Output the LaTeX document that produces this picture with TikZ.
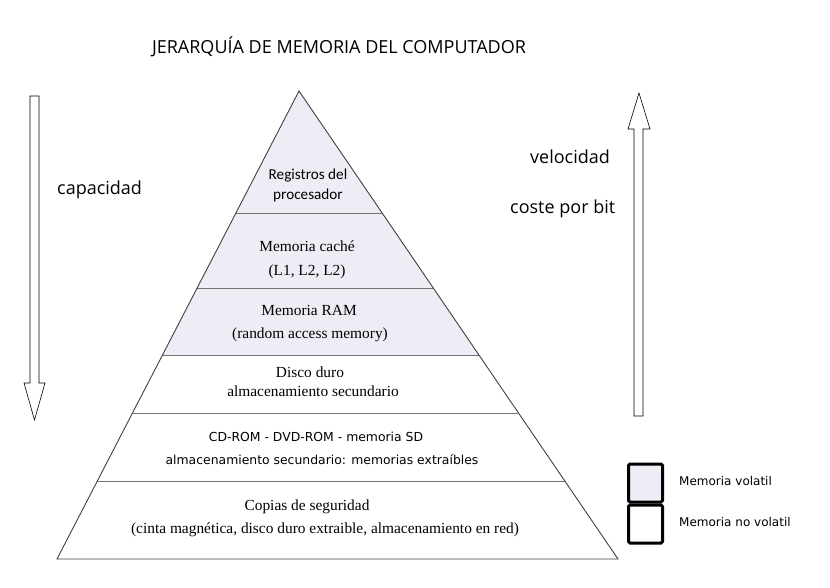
\documentclass[tikz,border=0pt]{standalone}
\usepackage{fontspec}
\setmainfont{Liberation Serif}
\newfontfamily\segoe{Open Sans}
\newfontfamily\calib{Carlito}
\newfontfamily\dejavu{DejaVu Sans}
\usetikzlibrary{calc, positioning}
\definecolor{volfill}{RGB}{237,237,246}

\begin{document}
\begin{tikzpicture}[x=1pt, y=-1pt,
    txt/.style={inner sep=0pt, font=\fontsize{15.4}{18}\selectfont},
    dvtxt/.style={inner sep=0pt, font=\dejavu\fontsize{12.4}{15}\selectfont},
    sidetxt/.style={inner sep=0pt, anchor=west, font=\segoe\fontsize{18}{22}\selectfont},
    divider/.style={draw=black!55, line width=0.9pt},
    hollow/.style={draw=black, line width=0.6pt, fill=white},
    legbox/.style={draw=black, line width=3pt, rounded corners=1.5pt,
      minimum width=34pt, minimum height=38pt, inner sep=0pt}]
    \useasboundingbox (0,0) rectangle (830,588);
    % Title
    \node[inner sep=0pt, font=\segoe\fontsize{18}{22}\selectfont] (title) at (339,47) {JERARQUÍA DE MEMORIA DEL COMPUTADOR};
    % Pyramid
    \coordinate (apex) at (299,91);
    \coordinate (bl) at (57,559);
    \coordinate (br) at (618,559);
    \fill[volfill] (apex) -- ($(apex)!0.5641!(bl)$) -- ($(apex)!0.5641!(br)$) -- cycle;
    \foreach \t in {0.2607, 0.4209, 0.5641, 0.688, 0.8333}
      \draw[divider] ($(apex)!\t!(bl)$) -- ($(apex)!\t!(br)$);
    \draw[black!75, line width=0.9pt] (apex) -- (bl) -- (br) -- cycle;
    % Layers
    \node[inner sep=0pt, font=\calib\fontsize{15.2}{20}\selectfont, align=center] (reg) at (308,185) {Registros del\\procesador};
    \node[txt] (cache1) at (307,246) {Memoria caché};
    \node[txt] (cache2) at (307,272) {(L1, L2, L2)};
    \node[txt] (ram1) at (309,310) {Memoria RAM};
    \node[txt] (ram2) at (310,335) {(random access memory)};
    \node[txt] (disco1) at (310,372) {Disco duro};
    \node[txt] (disco2) at (313,391) {almacenamiento secundario};
    \node[dvtxt] (cd1) at (316,437) {CD-ROM - DVD-ROM - memoria SD};
    \node[dvtxt] (cd2) at (322,460) {almacenamiento secundario: memorias extraíbles};
    \node[txt] (copia1) at (307,507) {Copias de seguridad};
    \node[txt] (copia2) at (325,530) {(cinta magnética, disco duro extraible, almacenamiento en red)};
    % Arrows
    \draw[hollow] (30,96) -- (39,96) -- (39,383) -- (45,383) -- (34.5,420) -- (24,383) -- (30,383) -- cycle;
    \draw[hollow] (634,416) -- (643,416) -- (643,129) -- (650,129) -- (639,93) -- (628,129) -- (634,129) -- cycle;
    \node[sidetxt] (cap) at (57,190) {capacidad};
    \node[sidetxt] (vel) at (530,157) {velocidad};
    \node[sidetxt] (coste) at (510,209) {coste por bit};
    % Legend
    \node[legbox, fill=volfill] (vol) at (645.5,483) {};
    \node[legbox, fill=white, below=0pt of vol] (novol) {};
    \node[dvtxt, anchor=west, font=\dejavu\fontsize{12}{15}\selectfont] (voltxt) at (679,481) {Memoria volatil};
    \node[dvtxt, anchor=west, font=\dejavu\fontsize{12}{15}\selectfont] (novoltxt) at (679,522) {Memoria no volatil};
\end{tikzpicture}
\end{document}
